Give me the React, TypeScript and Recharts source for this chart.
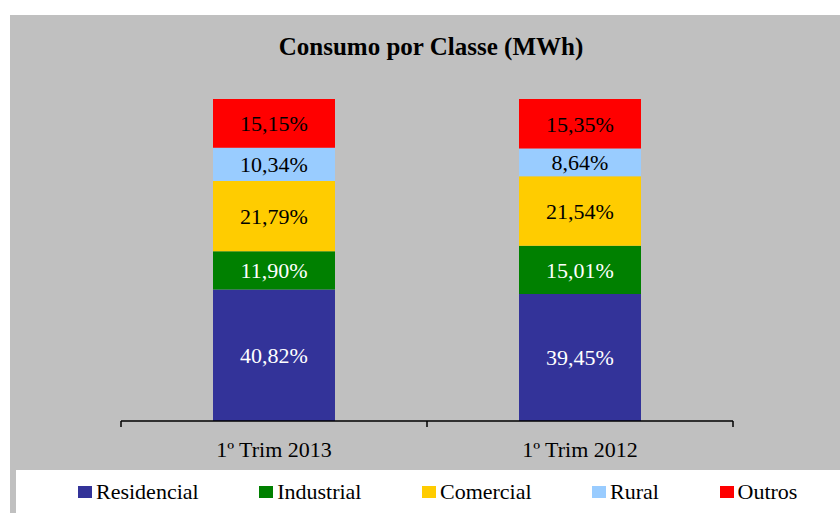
import React from 'react';
import { BarChart, Bar, XAxis, YAxis, LabelList, Legend } from 'recharts';

const categories = ['1º Trim 2013', '1º Trim 2012'];
const residencial = [40.82, 39.45];
const industrial = [11.9, 15.01];
const comercial = [21.79, 21.54];
const rural = [10.34, 8.64];
const outros = [15.15, 15.35];

const data = categories.map((c, i) => ({
  name: c,
  Residencial: residencial[i],
  Industrial: industrial[i],
  Comercial: comercial[i],
  Rural: rural[i],
  Outros: outros[i],
}));

const FONT = '"Liberation Serif", "Times New Roman", serif';
const TICK_MARGIN = 20;

const series = [
  { key: 'Residencial', color: '#333399', text: '#FFFFFF' },
  { key: 'Industrial', color: '#008000', text: '#FFFFFF' },
  { key: 'Comercial', color: '#FFCC00', text: '#000000' },
  { key: 'Rural', color: '#99CCFF', text: '#000000' },
  { key: 'Outros', color: '#FF0000', text: '#000000' },
];

const fmt = (v: any) => `${Number(v).toFixed(2).replace('.', ',')}%`;

const AxisTick = (props: any) => {
  const { x, y, payload, index, visibleTicksCount } = props;
  const half = payload && payload.offset > 0 ? payload.offset : 153;
  const y0 = y - TICK_MARGIN;
  const count = visibleTicksCount ?? categories.length;
  return (
    <g>
      <line x1={x - half} x2={x - half} y1={y0} y2={y0 + 6} stroke="#000" strokeWidth={1.5} />
      {index === count - 1 && <line x1={x + half} x2={x + half} y1={y0} y2={y0 + 6} stroke="#000" strokeWidth={1.5} />}
      <text x={x} y={y} dy="0.71em" textAnchor="middle" fill="#000" fontSize={22} fontFamily={FONT}>
        {payload.value}
      </text>
    </g>
  );
};

const LegendContent = () => {
  return (
    <div style={{ display: 'flex', alignItems: 'center', paddingLeft: 62, height: 43, fontFamily: FONT, fontSize: 22, color: '#000' }}>
      {series.map((s, i) => (
        <div key={i} style={{ display: 'flex', alignItems: 'center', marginRight: 60.5 }}>
          <span style={{ display: 'inline-block', width: 14, height: 12, background: s.color, marginRight: 4 }} />
          <span style={{ lineHeight: '22px', fontFamily: FONT }}>{s.key}</span>
        </div>
      ))}
    </div>
  );
};

export default function App() {
  return (
    <div style={{ position: 'absolute', left: 0, top: 0, width: 840, height: 513, background: '#fff' }}>
      <div style={{ position: 'absolute', left: 10, top: 15, width: 830, height: 498, background: '#C0C0C0' }} />
      <div style={{ position: 'absolute', left: 16, top: 470, width: 824, height: 43, background: '#FFFFFF' }} />
      <div style={{ position: 'absolute', left: 16, top: 34, width: 830, textAlign: 'center', fontFamily: FONT, fontWeight: 'bold', fontSize: 25, lineHeight: '25px', color: '#000' }}>
        Consumo por Classe (MWh)
      </div>
      <div style={{ position: 'absolute', left: 0, top: 0 }}>
        <BarChart width={840} height={513} data={data} margin={{ top: 99, right: 107, left: 121, bottom: 62 }}>
          <XAxis dataKey="name" height={30} axisLine={{ stroke: '#000', strokeWidth: 1.5 }} tickLine={false} tickSize={0} tickMargin={TICK_MARGIN} tick={<AxisTick />} interval={0} />
          <YAxis hide domain={[0, 100]} />
          <Legend layout="horizontal" verticalAlign="middle" align="center" wrapperStyle={{ left: 16, top: 470, width: 824, height: 43, bottom: 'auto', right: 'auto' }} content={<LegendContent />} />
          {series.map((s) => (
            <Bar key={s.key} dataKey={s.key} name={s.key} stackId="a" fill={s.color} barSize={122} isAnimationActive={false}>
              <LabelList dataKey={s.key} position="center" formatter={fmt} fill={s.text} fontSize={22} fontFamily={FONT} />
            </Bar>
          ))}
        </BarChart>
      </div>
    </div>
  );
}
